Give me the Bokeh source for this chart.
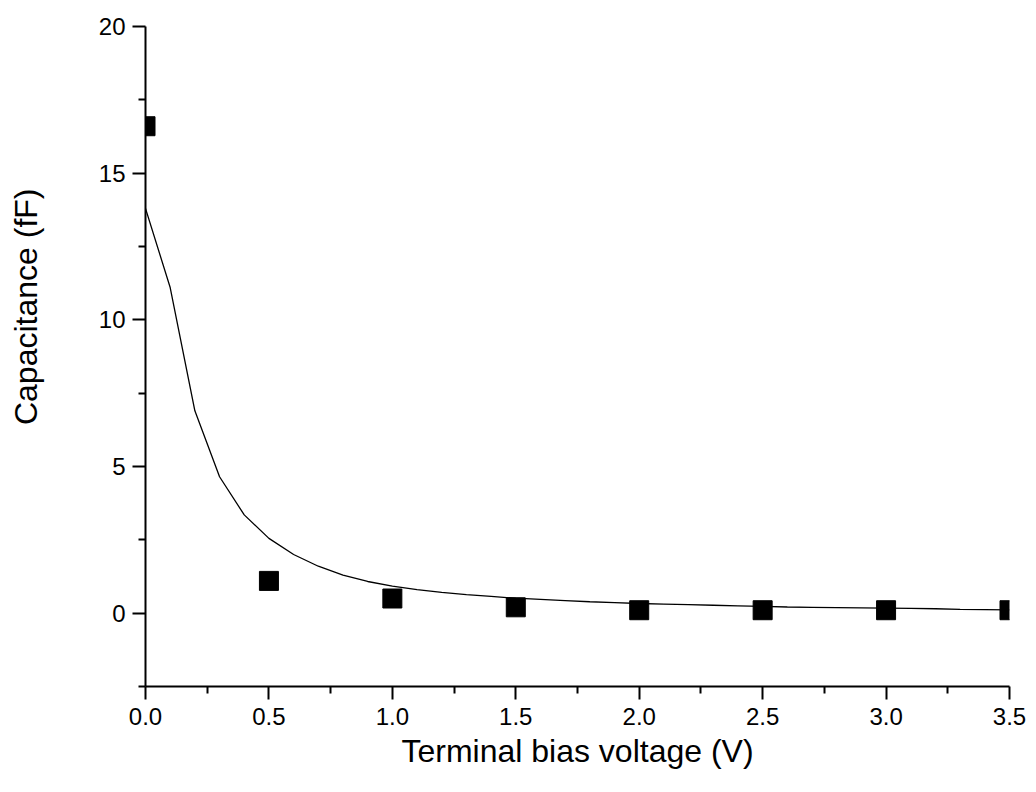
from bokeh.plotting import figure
from bokeh.models import Range1d, FixedTicker, Title
from bokeh.embed import file_html
from bokeh.resources import INLINE

# Measured data (squares)
meas_v = [0.0, 0.5, 1.0, 1.5, 2.0, 2.5, 3.0, 3.5]
meas_c = [16.6, 1.1, 0.5, 0.2, 0.1, 0.1, 0.1, 0.1]

# Model curve (line)
fit_v = [0.0, 0.1, 0.2, 0.3, 0.4, 0.5, 0.6, 0.7, 0.8, 0.9,
         1.0, 1.1, 1.2, 1.3, 1.4, 1.5, 1.6, 1.7, 1.8, 1.9,
         2.0, 2.1, 2.2, 2.3, 2.4, 2.5, 2.6, 2.7, 2.8, 2.9,
         3.0, 3.1, 3.2, 3.3, 3.4, 3.5]
fit_c = [13.8, 11.1, 6.9, 4.65, 3.35, 2.55, 2.0, 1.6, 1.3, 1.08,
         0.92, 0.8, 0.71, 0.63, 0.57, 0.51, 0.47, 0.43, 0.39, 0.36,
         0.33, 0.31, 0.29, 0.27, 0.25, 0.23, 0.21, 0.2, 0.19, 0.18,
         0.17, 0.16, 0.15, 0.13, 0.12, 0.11]

x_ticks = [0.0, 0.5, 1.0, 1.5, 2.0, 2.5, 3.0, 3.5]
x_minor = [0.25, 0.75, 1.25, 1.75, 2.25, 2.75, 3.25]
y_ticks = [0, 5, 10, 15, 20]
y_minor = [-2.5, 2.5, 7.5, 12.5, 17.5]

FONT = "Liberation Sans"

p = figure(width=1036, height=792, output_backend="svg", toolbar_location=None,
           x_range=Range1d(0, 3.5), y_range=Range1d(-2.5, 20),
           min_border_left=145, min_border_right=27, min_border_top=26,
           min_border_bottom=106)
p.outline_line_color = None
p.grid.visible = False
p.background_fill_color = "white"
p.border_fill_color = "white"

p.line(fit_v, fit_c, line_color="black", line_width=1.3)
p.scatter(meas_v, meas_c, marker="square", size=19, fill_color="black",
          line_color="black")

for ax in (p.xaxis[0], p.yaxis[0]):
    ax.axis_line_width = 2
    ax.axis_line_color = "black"
    ax.major_tick_line_width = 2
    ax.minor_tick_line_width = 2
    ax.major_tick_in = 0
    ax.major_tick_out = 13
    ax.minor_tick_in = 0
    ax.minor_tick_out = 7
    ax.major_label_text_font = FONT
    ax.major_label_text_font_size = "24px"
    ax.major_label_text_color = "black"
    ax.axis_label_text_font = FONT
    ax.axis_label_text_font_style = "normal"
    ax.axis_label_text_color = "black"

p.xaxis.ticker = FixedTicker(ticks=x_ticks, minor_ticks=x_minor)
p.yaxis.ticker = FixedTicker(ticks=y_ticks, minor_ticks=y_minor)
p.xaxis.major_label_overrides = {t: f"{t:.1f}" for t in x_ticks}
p.yaxis.major_label_overrides = {t: f"{t}" for t in y_ticks}
p.xaxis.major_label_standoff = 8
p.yaxis.major_label_standoff = 7

p.xaxis.axis_label = "Terminal bias voltage (V)"
p.xaxis.axis_label_text_font_size = "32px"
p.xaxis.axis_label_standoff = 5

# blank spacer label on the y axis to leave room between tick labels and title
p.yaxis.axis_label = " "
p.yaxis.axis_label_text_font_size = "1px"
p.yaxis.axis_label_standoff = 47

ytitle = Title(text="Capacitance (fF)", align="right", offset=162,
               standoff=2, text_font=FONT, text_font_size="32px",
               text_font_style="normal", text_color="black")
p.add_layout(ytitle, "left")

open("out.html", "w").write(file_html(p, INLINE))
